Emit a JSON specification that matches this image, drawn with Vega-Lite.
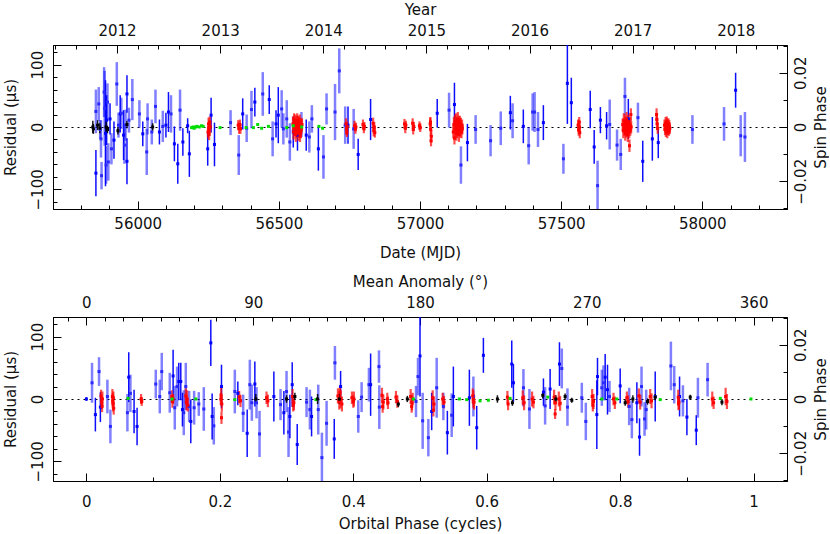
{
"$schema": "https://vega.github.io/schema/vega-lite/v6.json",
"background": "white",
"padding": {"left": 2, "top": 1, "right": 0, "bottom": 0},
"spacing": 12,
"config": {
  "font": "DejaVu Sans",
  "view": {"stroke": "#000", "strokeWidth": 1},
  "axis": {"labelFontSize": 15, "titleFontSize": 15, "titleFontWeight": "normal", "labelColor": "#111", "titleColor": "#111", "domainColor": "#000", "tickColor": "#000", "labelOverlap": false, "labelFlush": false, "grid": false, "tickWidth": 1, "domainWidth": 1, "labelFont": "DejaVu Sans", "titleFont": "DejaVu Sans"}
},
"datasets": {
  "ax1": [{"yr": 2015, "sp": 0}],
  "ax2": [{"ma": 180, "sp": 0}],
  "top": [
    {"x":55852,"r":-74,"e":37,"g":"b"},{"x":55852,"r":25,"e":35,"g":"l"},{"x":55862,"r":37,"e":27,"g":"l"},{"x":55867,"r":-4,"e":15,"g":"l"},{"x":55870,"r":-19,"e":30,"g":"l"},{"x":55872,"r":-78,"e":22,"g":"l"},{"x":55881,"r":56,"e":40,"g":"l"},{"x":55883,"r":30,"e":60,"g":"l"},{"x":55886,"r":-10,"e":85,"g":"b"},{"x":55888,"r":-61,"e":30,"g":"l"},{"x":55890,"r":11,"e":40,"g":"b"},{"x":55893,"r":40,"e":30,"g":"l"},{"x":55896,"r":-56,"e":30,"g":"l"},{"x":55902,"r":13,"e":25,"g":"b"},{"x":55907,"r":-35,"e":25,"g":"l"},{"x":55916,"r":-21,"e":30,"g":"b"},{"x":55926,"r":69,"e":35,"g":"l"},{"x":55932,"r":3,"e":20,"g":"l"},{"x":55938,"r":21,"e":30,"g":"b"},{"x":55942,"r":22,"e":25,"g":"l"},{"x":55950,"r":-13,"e":40,"g":"b"},{"x":55953,"r":-29,"e":30,"g":"l"},{"x":55957,"r":3,"e":25,"g":"l"},{"x":55962,"r":53,"e":30,"g":"b"},{"x":55962,"r":-55,"e":37,"g":"b"},{"x":55969,"r":11,"e":20,"g":"l"},{"x":55981,"r":44,"e":33,"g":"l"},{"x":56006,"r":21,"e":22,"g":"l"},{"x":56018,"r":-11,"e":20,"g":"b"},{"x":56032,"r":-40,"e":37,"g":"l"},{"x":56035,"r":13,"e":25,"g":"l"},{"x":56050,"r":-8,"e":20,"g":"l"},{"x":56063,"r":33,"e":27,"g":"l"},{"x":56077,"r":-8,"e":20,"g":"b"},{"x":56089,"r":1,"e":25,"g":"l"},{"x":56100,"r":3,"e":20,"g":"b"},{"x":56109,"r":24,"e":32,"g":"b"},{"x":56118,"r":21,"e":30,"g":"l"},{"x":56130,"r":-27,"e":28,"g":"b"},{"x":56142,"r":-59,"e":32,"g":"b"},{"x":56150,"r":27,"e":33,"g":"l"},{"x":56160,"r":-24,"e":22,"g":"b"},{"x":56177,"r":2,"e":12,"g":"b"},{"x":56183,"r":-43,"e":37,"g":"b"},{"x":56248,"r":-35,"e":27,"g":"b"},{"x":56260,"r":19,"e":28,"g":"b"},{"x":56272,"r":-28,"e":35,"g":"b"},{"x":56329,"r":7,"e":20,"g":"l"},{"x":56358,"r":-45,"e":32,"g":"l"},{"x":56372,"r":21,"e":25,"g":"b"},{"x":56386,"r":-2,"e":22,"g":"l"},{"x":56403,"r":28,"e":30,"g":"l"},{"x":56415,"r":40,"e":23,"g":"b"},{"x":56443,"r":53,"e":35,"g":"l"},{"x":56466,"r":44,"e":23,"g":"b"},{"x":56478,"r":-19,"e":28,"g":"l"},{"x":56490,"r":5,"e":22,"g":"b"},{"x":56498,"r":19,"e":45,"g":"b"},{"x":56510,"r":29,"e":30,"g":"l"},{"x":56516,"r":-3,"e":25,"g":"l"},{"x":56528,"r":13,"e":30,"g":"l"},{"x":56539,"r":-24,"e":30,"g":"l"},{"x":56551,"r":-8,"e":25,"g":"b"},{"x":56566,"r":-13,"e":25,"g":"b"},{"x":56580,"r":4,"e":20,"g":"l"},{"x":56597,"r":-13,"e":25,"g":"b"},{"x":56608,"r":-16,"e":25,"g":"l"},{"x":56617,"r":13,"e":22,"g":"l"},{"x":56640,"r":-35,"e":35,"g":"b"},{"x":56658,"r":-48,"e":35,"g":"l"},{"x":56669,"r":29,"e":25,"g":"l"},{"x":56699,"r":24,"e":45,"g":"l"},{"x":56714,"r":90,"e":36,"g":"l"},{"x":56735,"r":3,"e":30,"g":"l"},{"x":56745,"r":3,"e":30,"g":"b"},{"x":56765,"r":-3,"e":32,"g":"l"},{"x":56781,"r":-44,"e":25,"g":"b"},{"x":56825,"r":12,"e":33,"g":"b"},
    {"x":57061,"r":22,"e":23,"g":"b"},{"x":57103,"r":27,"e":28,"g":"l"},{"x":57122,"r":36,"e":35,"g":"b"},{"x":57145,"r":-61,"e":30,"g":"l"},{"x":57168,"r":-25,"e":30,"g":"b"},{"x":57197,"r":-4,"e":23,"g":"l"},{"x":57250,"r":-22,"e":25,"g":"l"},{"x":57286,"r":-2,"e":27,"g":"l"},{"x":57320,"r":23,"e":27,"g":"b"},{"x":57328,"r":10,"e":28,"g":"l"},{"x":57366,"r":1,"e":27,"g":"b"},{"x":57385,"r":-30,"e":30,"g":"l"},{"x":57399,"r":24,"e":30,"g":"l"},{"x":57406,"r":24,"e":32,"g":"l"},{"x":57418,"r":-4,"e":28,"g":"l"},{"x":57437,"r":7,"e":28,"g":"b"},{"x":57508,"r":-51,"e":24,"g":"l"},{"x":57522,"r":70,"e":65,"g":"b"},{"x":57536,"r":39,"e":40,"g":"b"},{"x":57603,"r":28,"e":30,"g":"b"},{"x":57617,"r":-32,"e":27,"g":"b"},{"x":57629,"r":-94,"e":40,"g":"l"},{"x":57639,"r":11,"e":21,"g":"b"},{"x":57661,"r":2,"e":22,"g":"b"},{"x":57672,"r":4,"e":40,"g":"l"},{"x":57698,"r":-29,"e":25,"g":"l"},{"x":57711,"r":-44,"e":25,"g":"l"},{"x":57726,"r":49,"e":30,"g":"l"},{"x":57738,"r":13,"e":32,"g":"b"},{"x":57772,"r":15,"e":24,"g":"l"},{"x":57789,"r":-55,"e":33,"g":"b"},{"x":57823,"r":-19,"e":35,"g":"b"},{"x":57844,"r":-25,"e":25,"g":"b"},{"x":57965,"r":-4,"e":23,"g":"l"},{"x":58077,"r":5,"e":27,"g":"l"},{"x":58118,"r":59,"e":28,"g":"b"},{"x":58136,"r":-14,"e":33,"g":"l"},{"x":58151,"r":-16,"e":40,"g":"l"},
    {"x":56249,"r":-8,"e":10,"g":"r"},{"x":56251,"r":5,"e":10,"g":"r"},{"x":56253,"r":-12,"e":9,"g":"r"},{"x":56255,"r":8,"e":9,"g":"r"},{"x":56257,"r":0,"e":10,"g":"r"},{"x":56252,"r":-3,"e":8,"g":"r"},
    {"x":56356,"r":3,"e":8,"g":"r"},{"x":56359,"r":-2,"e":9,"g":"r"},{"x":56362,"r":4,"e":8,"g":"r"},{"x":56364,"r":-3,"e":8,"g":"r"},
    {"x":56550,"r":5,"e":12,"g":"r"},{"x":56552,"r":-8,"e":12,"g":"r"},{"x":56554,"r":12,"e":10,"g":"r"},{"x":56556,"r":-3,"e":12,"g":"r"},{"x":56558,"r":8,"e":12,"g":"r"},{"x":56560,"r":-12,"e":12,"g":"r"},{"x":56562,"r":4,"e":14,"g":"r"},{"x":56563,"r":-6,"e":12,"g":"r"},{"x":56565,"r":10,"e":12,"g":"r"},{"x":56566,"r":-2,"e":14,"g":"r"},{"x":56568,"r":6,"e":12,"g":"r"},{"x":56569,"r":-10,"e":12,"g":"r"},{"x":56571,"r":2,"e":14,"g":"r"},{"x":56572,"r":-5,"e":12,"g":"r"},{"x":56574,"r":8,"e":12,"g":"r"},{"x":56575,"r":-14,"e":10,"g":"r"},{"x":56577,"r":3,"e":12,"g":"r"},{"x":56578,"r":-6,"e":12,"g":"r"},{"x":56580,"r":0,"e":12,"g":"r"},{"x":56582,"r":4,"e":10,"g":"r"},
    {"x":56738,"r":5,"e":9,"g":"r"},{"x":56740,"r":-4,"e":9,"g":"r"},{"x":56742,"r":1,"e":8,"g":"r"},{"x":56741,"r":-9,"e":7,"g":"r"},
    {"x":56768,"r":2,"e":8,"g":"r"},{"x":56771,"r":-3,"e":8,"g":"r"},{"x":56773,"r":0,"e":7,"g":"r"},
    {"x":56798,"r":4,"e":8,"g":"r"},{"x":56801,"r":-2,"e":8,"g":"r"},{"x":56803,"r":1,"e":7,"g":"r"},
    {"x":56834,"r":6,"e":9,"g":"r"},{"x":56836,"r":-6,"e":9,"g":"r"},{"x":56838,"r":0,"e":8,"g":"r"},{"x":56840,"r":-9,"e":8,"g":"r"},
    {"x":56945,"r":5,"e":8,"g":"r"},{"x":56948,"r":-2,"e":8,"g":"r"},{"x":56950,"r":3,"e":7,"g":"r"},
    {"x":56974,"r":6,"e":8,"g":"r"},{"x":56976,"r":-4,"e":8,"g":"r"},{"x":56978,"r":1,"e":7,"g":"r"},
    {"x":56998,"r":2,"e":7,"g":"r"},{"x":57001,"r":-1,"e":7,"g":"r"},
    {"x":57036,"r":5,"e":10,"g":"r"},{"x":57038,"r":-4,"e":10,"g":"r"},{"x":57040,"r":-15,"e":10,"g":"r"},{"x":57039,"r":-22,"e":9,"g":"r"},{"x":57037,"r":8,"e":8,"g":"r"},
    {"x":57118,"r":-8,"e":10,"g":"r"},{"x":57120,"r":4,"e":12,"g":"r"},{"x":57122,"r":-18,"e":10,"g":"r"},{"x":57124,"r":8,"e":12,"g":"r"},{"x":57126,"r":-4,"e":12,"g":"r"},{"x":57128,"r":10,"e":12,"g":"r"},{"x":57129,"r":-10,"e":12,"g":"r"},{"x":57131,"r":2,"e":14,"g":"r"},{"x":57132,"r":-6,"e":12,"g":"r"},{"x":57134,"r":12,"e":12,"g":"r"},{"x":57135,"r":-2,"e":12,"g":"r"},{"x":57137,"r":6,"e":12,"g":"r"},{"x":57138,"r":-12,"e":12,"g":"r"},{"x":57140,"r":0,"e":14,"g":"r"},{"x":57141,"r":8,"e":10,"g":"r"},{"x":57143,"r":-5,"e":12,"g":"r"},{"x":57145,"r":3,"e":12,"g":"r"},{"x":57147,"r":-8,"e":10,"g":"r"},{"x":57149,"r":2,"e":10,"g":"r"},{"x":57150,"r":-3,"e":9,"g":"r"},
    {"x":57560,"r":3,"e":9,"g":"r"},{"x":57562,"r":-5,"e":9,"g":"r"},{"x":57564,"r":8,"e":8,"g":"r"},{"x":57566,"r":-9,"e":9,"g":"r"},{"x":57565,"r":0,"e":10,"g":"r"},
    {"x":57718,"r":4,"e":10,"g":"r"},{"x":57720,"r":-6,"e":12,"g":"r"},{"x":57722,"r":10,"e":12,"g":"r"},{"x":57724,"r":-2,"e":12,"g":"r"},{"x":57726,"r":6,"e":14,"g":"r"},{"x":57727,"r":-10,"e":12,"g":"r"},{"x":57729,"r":2,"e":14,"g":"r"},{"x":57730,"r":-5,"e":12,"g":"r"},{"x":57732,"r":12,"e":12,"g":"r"},{"x":57733,"r":-1,"e":14,"g":"r"},{"x":57735,"r":5,"e":12,"g":"r"},{"x":57736,"r":-12,"e":12,"g":"r"},{"x":57738,"r":0,"e":14,"g":"r"},{"x":57739,"r":8,"e":12,"g":"r"},{"x":57741,"r":-6,"e":12,"g":"r"},{"x":57742,"r":-30,"e":10,"g":"r"},{"x":57744,"r":3,"e":12,"g":"r"},{"x":57745,"r":-4,"e":10,"g":"r"},{"x":57747,"r":20,"e":10,"g":"r"},{"x":57748,"r":0,"e":10,"g":"r"},
    {"x":57838,"r":20,"e":10,"g":"r"},{"x":57840,"r":5,"e":10,"g":"r"},{"x":57842,"r":-2,"e":9,"g":"r"},{"x":57839,"r":12,"e":9,"g":"r"},
    {"x":57866,"r":3,"e":9,"g":"r"},{"x":57868,"r":-4,"e":9,"g":"r"},{"x":57870,"r":6,"e":10,"g":"r"},{"x":57871,"r":-6,"e":10,"g":"r"},{"x":57873,"r":0,"e":11,"g":"r"},{"x":57874,"r":8,"e":9,"g":"r"},{"x":57876,"r":-8,"e":10,"g":"r"},{"x":57877,"r":2,"e":11,"g":"r"},{"x":57879,"r":-3,"e":10,"g":"r"},{"x":57880,"r":5,"e":9,"g":"r"},{"x":57882,"r":-5,"e":9,"g":"r"},{"x":57883,"r":1,"e":10,"g":"r"},{"x":57885,"r":-2,"e":9,"g":"r"},
    {"x":56191,"r":-1,"e":2,"g":"g"},{"x":56196,"r":0,"e":2,"g":"g"},{"x":56200,"r":-2,"e":2,"g":"g"},{"x":56205,"r":0,"e":2,"g":"g"},{"x":56210,"r":1,"e":2,"g":"g"},{"x":56218,"r":0,"e":2,"g":"g"},{"x":56226,"r":2,"e":2,"g":"g"},{"x":56232,"r":1,"e":2,"g":"g"},{"x":56292,"r":-1,"e":2,"g":"g"},{"x":56384,"r":-1,"e":2,"g":"g"},{"x":56410,"r":-1,"e":2,"g":"g"},{"x":56425,"r":4,"e":2,"g":"g"},{"x":56439,"r":-2,"e":2,"g":"g"},{"x":56463,"r":1,"e":2,"g":"g"},{"x":56528,"r":-1,"e":2,"g":"g"},{"x":56551,"r":2,"e":2,"g":"g"},{"x":56581,"r":0,"e":2,"g":"g"},{"x":56642,"r":1,"e":2,"g":"g"},{"x":56655,"r":-2,"e":2,"g":"g"},
    {"x":55841,"r":0,"e":10,"g":"k"},{"x":55843,"r":-3,"e":8,"g":"k"},{"x":55858,"r":3,"e":8,"g":"k"},{"x":55866,"r":-2,"e":8,"g":"k"},{"x":55888,"r":0,"e":10,"g":"k"},{"x":55893,"r":-4,"e":6,"g":"k"},{"x":55930,"r":-6,"e":6,"g":"k"},{"x":55962,"r":4,"e":6,"g":"k"},{"x":56053,"r":0,"e":6,"g":"k"}
  ],
  "bot": [
    {"x":0.0,"r":0,"e":3,"g":"b"},{"x":0.0085,"r":26,"e":32,"g":"l"},{"x":0.0135,"r":-25,"e":27,"g":"b"},{"x":0.019,"r":44,"e":23,"g":"l"},{"x":0.021,"r":-13,"e":24,"g":"b"},{"x":0.0315,"r":4,"e":27,"g":"l"},{"x":0.036,"r":-44,"e":27,"g":"l"},{"x":0.0615,"r":-22,"e":30,"g":"l"},{"x":0.0635,"r":35,"e":40,"g":"b"},{"x":0.066,"r":9,"e":30,"g":"l"},{"x":0.0715,"r":-20,"e":35,"g":"b"},{"x":0.076,"r":-44,"e":30,"g":"b"},{"x":0.104,"r":24,"e":23,"g":"l"},{"x":0.11,"r":4,"e":27,"g":"l"},{"x":0.113,"r":44,"e":30,"g":"l"},{"x":0.125,"r":10,"e":32,"g":"l"},{"x":0.13,"r":37,"e":42,"g":"b"},{"x":0.1325,"r":-14,"e":35,"g":"l"},{"x":0.136,"r":20,"e":32,"g":"l"},{"x":0.1385,"r":28,"e":30,"g":"b"},{"x":0.1415,"r":28,"e":30,"g":"b"},{"x":0.144,"r":-17,"e":27,"g":"b"},{"x":0.146,"r":-22,"e":36,"g":"l"},{"x":0.149,"r":20,"e":38,"g":"l"},{"x":0.154,"r":-12,"e":25,"g":"l"},{"x":0.1565,"r":-36,"e":35,"g":"b"},{"x":0.1615,"r":-14,"e":27,"g":"l"},{"x":0.1685,"r":-8,"e":19,"g":"l"},{"x":0.176,"r":-16,"e":35,"g":"l"},{"x":0.1865,"r":90,"e":37,"g":"b"},{"x":0.1885,"r":-28,"e":37,"g":"b"},{"x":0.191,"r":-43,"e":30,"g":"l"},{"x":0.2025,"r":20,"e":35,"g":"b"},{"x":0.2225,"r":12,"e":35,"g":"l"},{"x":0.227,"r":9,"e":19,"g":"b"},{"x":0.235,"r":-23,"e":30,"g":"l"},{"x":0.241,"r":-55,"e":38,"g":"b"},{"x":0.245,"r":23,"e":40,"g":"l"},{"x":0.248,"r":-6,"e":29,"g":"l"},{"x":0.2525,"r":24,"e":36,"g":"b"},{"x":0.255,"r":-6,"e":25,"g":"l"},{"x":0.2595,"r":-56,"e":37,"g":"l"},{"x":0.281,"r":4,"e":40,"g":"b"},{"x":0.291,"r":-9,"e":25,"g":"l"},{"x":0.296,"r":-22,"e":35,"g":"b"},{"x":0.3,"r":12,"e":33,"g":"l"},{"x":0.303,"r":-53,"e":40,"g":"l"},{"x":0.305,"r":-28,"e":35,"g":"b"},{"x":0.3085,"r":23,"e":36,"g":"b"},{"x":0.316,"r":-73,"e":33,"g":"b"},{"x":0.33,"r":-5,"e":24,"g":"l"},{"x":0.335,"r":-17,"e":32,"g":"l"},{"x":0.3375,"r":-28,"e":32,"g":"b"},{"x":0.3475,"r":-17,"e":40,"g":"l"},{"x":0.353,"r":-94,"e":40,"g":"l"},{"x":0.36,"r":-39,"e":36,"g":"l"},{"x":0.3715,"r":-64,"e":32,"g":"b"},{"x":0.3725,"r":58,"e":27,"g":"l"},{"x":0.381,"r":20,"e":25,"g":"b"},{"x":0.4075,"r":-28,"e":26,"g":"l"},{"x":0.4125,"r":3,"e":24,"g":"l"},{"x":0.4235,"r":23,"e":27,"g":"l"},{"x":0.426,"r":23,"e":50,"g":"b"},{"x":0.4385,"r":52,"e":26,"g":"l"},{"x":0.439,"r":-13,"e":35,"g":"l"},{"x":0.494,"r":-4,"e":25,"g":"l"},{"x":0.497,"r":36,"e":30,"g":"l"},
    {"x":0.5,"r":69,"e":65,"g":"b"},{"x":0.504,"r":-35,"e":45,"g":"l"},{"x":0.5125,"r":-62,"e":30,"g":"l"},{"x":0.5175,"r":-20,"e":30,"g":"b"},{"x":0.525,"r":18,"e":48,"g":"l"},{"x":0.535,"r":-12,"e":22,"g":"l"},{"x":0.541,"r":-54,"e":35,"g":"b"},{"x":0.5475,"r":-26,"e":35,"g":"l"},{"x":0.55,"r":4,"e":48,"g":"b"},{"x":0.574,"r":2,"e":45,"g":"b"},{"x":0.58,"r":4,"e":32,"g":"l"},{"x":0.585,"r":-46,"e":35,"g":"b"},{"x":0.595,"r":70,"e":28,"g":"b"},{"x":0.6375,"r":56,"e":38,"g":"b"},{"x":0.64,"r":26,"e":30,"g":"b"},{"x":0.655,"r":18,"e":30,"g":"l"},{"x":0.664,"r":-16,"e":32,"g":"l"},{"x":0.685,"r":11,"e":22,"g":"b"},{"x":0.6875,"r":-11,"e":30,"g":"l"},{"x":0.695,"r":16,"e":32,"g":"b"},{"x":0.709,"r":56,"e":35,"g":"b"},{"x":0.7125,"r":49,"e":32,"g":"l"},{"x":0.721,"r":-13,"e":30,"g":"l"},{"x":0.7425,"r":2,"e":24,"g":"l"},{"x":0.7485,"r":-36,"e":30,"g":"l"},{"x":0.765,"r":-25,"e":55,"g":"b"},{"x":0.766,"r":36,"e":30,"g":"b"},{"x":0.7725,"r":18,"e":29,"g":"l"},{"x":0.775,"r":26,"e":28,"g":"l"},{"x":0.7775,"r":35,"e":37,"g":"b"},{"x":0.781,"r":15,"e":40,"g":"b"},{"x":0.784,"r":4,"e":25,"g":"l"},{"x":0.8,"r":21,"e":28,"g":"b"},{"x":0.8135,"r":-12,"e":30,"g":"l"},{"x":0.8175,"r":-33,"e":30,"g":"l"},{"x":0.825,"r":-6,"e":33,"g":"b"},{"x":0.829,"r":-61,"e":30,"g":"b"},{"x":0.832,"r":20,"e":32,"g":"l"},{"x":0.8365,"r":-32,"e":27,"g":"l"},{"x":0.839,"r":-17,"e":32,"g":"l"},{"x":0.8525,"r":4,"e":40,"g":"b"},{"x":0.876,"r":53,"e":39,"g":"l"},{"x":0.881,"r":23,"e":30,"g":"l"},{"x":0.889,"r":4,"e":32,"g":"b"},{"x":0.894,"r":-3,"e":25,"g":"l"},{"x":0.9,"r":-29,"e":29,"g":"b"},{"x":0.914,"r":-50,"e":24,"g":"b"},{"x":0.9165,"r":2,"e":32,"g":"l"},{"x":0.931,"r":31,"e":27,"g":"l"},
    {"x":0.022,"r":5,"e":10,"g":"r"},{"x":0.023,"r":-6,"e":10,"g":"r"},{"x":0.024,"r":0,"e":12,"g":"r"},{"x":0.0235,"r":-12,"e":9,"g":"r"},
    {"x":0.039,"r":4,"e":12,"g":"r"},{"x":0.04,"r":-8,"e":12,"g":"r"},{"x":0.041,"r":-15,"e":10,"g":"r"},{"x":0.0405,"r":2,"e":10,"g":"r"},{"x":0.0395,"r":-3,"e":12,"g":"r"},
    {"x":0.082,"r":0,"e":8,"g":"r"},{"x":0.083,"r":-4,"e":7,"g":"r"},
    {"x":0.128,"r":4,"e":10,"g":"r"},{"x":0.129,"r":-4,"e":10,"g":"r"},{"x":0.13,"r":0,"e":8,"g":"r"},
    {"x":0.149,"r":5,"e":12,"g":"r"},{"x":0.15,"r":-6,"e":12,"g":"r"},{"x":0.151,"r":0,"e":14,"g":"r"},{"x":0.152,"r":-10,"e":10,"g":"r"},
    {"x":0.202,"r":6,"e":12,"g":"r"},{"x":0.203,"r":-8,"e":12,"g":"r"},{"x":0.2025,"r":-30,"e":10,"g":"r"},{"x":0.2015,"r":0,"e":10,"g":"r"},
    {"x":0.229,"r":3,"e":10,"g":"r"},{"x":0.231,"r":-3,"e":10,"g":"r"},
    {"x":0.27,"r":2,"e":10,"g":"r"},{"x":0.272,"r":-3,"e":10,"g":"r"},
    {"x":0.309,"r":4,"e":12,"g":"r"},{"x":0.311,"r":-6,"e":12,"g":"r"},{"x":0.31,"r":-10,"e":10,"g":"r"},
    {"x":0.377,"r":5,"e":12,"g":"r"},{"x":0.379,"r":-5,"e":12,"g":"r"},{"x":0.381,"r":0,"e":15,"g":"r"},{"x":0.383,"r":-8,"e":12,"g":"r"},{"x":0.38,"r":10,"e":10,"g":"r"},
    {"x":0.398,"r":2,"e":10,"g":"r"},{"x":0.4,"r":-4,"e":10,"g":"r"},{"x":0.401,"r":0,"e":12,"g":"r"},
    {"x":0.443,"r":6,"e":12,"g":"r"},{"x":0.445,"r":-5,"e":12,"g":"r"},{"x":0.444,"r":-12,"e":10,"g":"r"},
    {"x":0.451,"r":0,"e":10,"g":"r"},{"x":0.452,"r":-6,"e":10,"g":"r"},
    {"x":0.464,"r":3,"e":10,"g":"r"},{"x":0.466,"r":-4,"e":10,"g":"r"},
    {"x":0.486,"r":4,"e":12,"g":"r"},{"x":0.488,"r":-6,"e":12,"g":"r"},{"x":0.4875,"r":-12,"e":10,"g":"r"},{"x":0.489,"r":0,"e":10,"g":"r"},
    {"x":0.519,"r":2,"e":12,"g":"r"},{"x":0.521,"r":-8,"e":12,"g":"r"},{"x":0.52,"r":-18,"e":10,"g":"r"},
    {"x":0.534,"r":0,"e":10,"g":"r"},{"x":0.536,"r":-5,"e":10,"g":"r"},
    {"x":0.579,"r":5,"e":12,"g":"r"},{"x":0.581,"r":-5,"e":12,"g":"r"},{"x":0.58,"r":0,"e":14,"g":"r"},
    {"x":0.631,"r":3,"e":10,"g":"r"},{"x":0.632,"r":-8,"e":10,"g":"r"},
    {"x":0.654,"r":2,"e":12,"g":"r"},{"x":0.656,"r":-6,"e":12,"g":"r"},
    {"x":0.668,"r":0,"e":12,"g":"r"},{"x":0.67,"r":-5,"e":10,"g":"r"},
    {"x":0.701,"r":3,"e":12,"g":"r"},{"x":0.703,"r":-6,"e":12,"g":"r"},{"x":0.7025,"r":-24,"e":8,"g":"r"},
    {"x":0.708,"r":0,"e":12,"g":"r"},{"x":0.71,"r":-7,"e":12,"g":"r"},
    {"x":0.758,"r":4,"e":12,"g":"r"},{"x":0.76,"r":-4,"e":12,"g":"r"},{"x":0.759,"r":-10,"e":10,"g":"r"},
    {"x":0.79,"r":0,"e":10,"g":"r"},{"x":0.792,"r":-6,"e":10,"g":"r"},
    {"x":0.81,"r":2,"e":10,"g":"r"},{"x":0.812,"r":-4,"e":10,"g":"r"},
    {"x":0.828,"r":5,"e":12,"g":"r"},{"x":0.83,"r":-5,"e":12,"g":"r"},
    {"x":0.845,"r":4,"e":12,"g":"r"},{"x":0.847,"r":-3,"e":12,"g":"r"},
    {"x":0.887,"r":3,"e":12,"g":"r"},{"x":0.888,"r":-5,"e":12,"g":"r"},{"x":0.8875,"r":-8,"e":10,"g":"r"},
    {"x":0.938,"r":0,"e":12,"g":"r"},{"x":0.94,"r":-6,"e":10,"g":"r"},
    {"x":0.958,"r":4,"e":14,"g":"r"},{"x":0.96,"r":-4,"e":12,"g":"r"},
    {"x":0.0625,"r":1,"e":2,"g":"g"},{"x":0.1285,"r":0,"e":2,"g":"g"},{"x":0.164,"r":0,"e":2,"g":"g"},{"x":0.2225,"r":-1,"e":2,"g":"g"},{"x":0.344,"r":-1,"e":2,"g":"g"},{"x":0.49,"r":0,"e":2,"g":"g"},{"x":0.559,"r":0,"e":2,"g":"g"},{"x":0.57,"r":-1,"e":2,"g":"g"},{"x":0.59,"r":-3,"e":2,"g":"g"},{"x":0.6025,"r":-2,"e":2,"g":"g"},{"x":0.635,"r":1,"e":2,"g":"g"},{"x":0.6915,"r":3,"e":2,"g":"g"},{"x":0.7725,"r":0,"e":2,"g":"g"},{"x":0.795,"r":0,"e":2,"g":"g"},{"x":0.86,"r":-1,"e":2,"g":"g"},{"x":0.95,"r":1,"e":2,"g":"g"},{"x":0.996,"r":0,"e":2,"g":"g"},
    {"x":0.254,"r":0,"e":8,"g":"k"},{"x":0.3,"r":0,"e":6,"g":"k"},{"x":0.3125,"r":4,"e":6,"g":"k"},{"x":0.3465,"r":0,"e":8,"g":"k"},{"x":0.379,"r":0,"e":8,"g":"k"},{"x":0.4675,"r":-8,"e":5,"g":"k"},{"x":0.481,"r":0,"e":5,"g":"k"},{"x":0.616,"r":0,"e":6,"g":"k"},{"x":0.6385,"r":-6,"e":5,"g":"k"},{"x":0.684,"r":6,"e":5,"g":"k"},{"x":0.7035,"r":0,"e":6,"g":"k"},{"x":0.7175,"r":4,"e":5,"g":"k"},{"x":0.7275,"r":-2,"e":4,"g":"k"},{"x":0.8075,"r":-6,"e":5,"g":"k"},{"x":0.819,"r":0,"e":6,"g":"k"},{"x":0.841,"r":-4,"e":5,"g":"k"},{"x":0.8525,"r":3,"e":5,"g":"k"},{"x":0.905,"r":3,"e":4,"g":"k"},{"x":0.9525,"r":-5,"e":5,"g":"k"}
  ]
},
"vconcat": [
  {
    "width": 734, "height": 164,
    "resolve": {"scale": {"x": "independent", "y": "independent"}},
    "layer": [
      {
        "data": {"name": "top"},
        "encoding": {
          "x": {"field": "x", "type": "quantitative", "title": "Date (MJD)",
            "scale": {"domain": [55700, 58300], "nice": false, "zero": false},
            "axis": {"orient": "bottom", "values": [55700,55800,55900,56000,56100,56200,56300,56400,56500,56600,56700,56800,56900,57000,57100,57200,57300,57400,57500,57600,57700,57800,57900,58000,58100,58200,58300],
              "labelExpr": "datum.value % 500 == 0 ? format(datum.value, 'd') : ''",
              "tickSize": {"condition": {"test": "datum.value % 500 == 0", "value": -8}, "value": -4},
              "labelPadding": 15, "titlePadding": 10}},
          "y": {"field": "r", "type": "quantitative", "title": "Residual (μs)",
            "scale": {"domain": [-131.5, 131.5], "nice": false, "zero": false},
            "axis": {"orient": "left", "values": [-120,-100,-80,-60,-40,-20,0,20,40,60,80,100,120],
              "labelExpr": "datum.value % 100 == 0 ? format(datum.value, 'd') : ''",
              "tickSize": {"condition": {"test": "datum.value % 100 == 0", "value": -8}, "value": -4},
              "labelAngle": -90, "labelAlign": "center", "labelBaseline": "bottom", "labelPadding": 16, "titlePadding": 8,
              "grid": true, "gridDash": [2, 4], "gridColor": "#000", "gridWidth": 1.2,
              "gridOpacity": {"condition": {"test": "datum.value == 0", "value": 1}, "value": 0}}}
        },
        "layer": [
          {"transform": [{"filter": "datum.g == 'l'"}], "mark": {"type": "errorbar", "color": "#0000ff", "opacity": 0.5, "thickness": 2.5, "clip": true}, "encoding": {"yError": {"field": "e"}}},
          {"transform": [{"filter": "datum.g == 'b'"}], "mark": {"type": "errorbar", "color": "#0000ff", "opacity": 0.95, "thickness": 1.5, "clip": true}, "encoding": {"yError": {"field": "e"}}},
          {"transform": [{"filter": "datum.g == 'r'"}], "mark": {"type": "errorbar", "color": "#ff0000", "opacity": 0.7, "thickness": 2.2, "clip": true}, "encoding": {"yError": {"field": "e"}}},
          {"transform": [{"filter": "datum.g == 'k'"}], "mark": {"type": "errorbar", "color": "#000000", "opacity": 0.9, "thickness": 1.5, "clip": true}, "encoding": {"yError": {"field": "e"}}},
          {"mark": {"type": "square", "size": 9, "opacity": 1, "clip": true},
           "encoding": {"color": {"field": "g", "type": "nominal", "scale": {"domain": ["b", "l", "r", "g", "k"], "range": ["#0000ff", "#2a2aff", "#ff0000", "#00dd00", "#000000"]}, "legend": null}}}
        ]
      },
      {
        "data": {"name": "ax1"},
        "mark": {"type": "point", "opacity": 0},
        "encoding": {
          "x": {"field": "yr", "type": "quantitative", "title": "Year",
            "scale": {"domain": [2011.3785, 2018.4969], "nice": false, "zero": false},
            "axis": {"orient": "top", "values": [2011.4,2011.6,2011.8,2012,2012.2,2012.4,2012.6,2012.8,2013,2013.2,2013.4,2013.6,2013.8,2014,2014.2,2014.4,2014.6,2014.8,2015,2015.2,2015.4,2015.6,2015.8,2016,2016.2,2016.4,2016.6,2016.8,2017,2017.2,2017.4,2017.6,2017.8,2018,2018.2,2018.4],
              "labelExpr": "abs(datum.value - round(datum.value)) < 0.01 ? format(round(datum.value), 'd') : ''",
              "tickSize": {"condition": {"test": "abs(datum.value - round(datum.value)) < 0.01", "value": -8}, "value": -4},
              "labelPadding": 15, "titlePadding": 2}},
          "y": {"field": "sp", "type": "quantitative", "title": "Spin Phase",
            "scale": {"domain": [-0.0302, 0.0302], "nice": false, "zero": false},
            "axis": {"orient": "right", "values": [-0.03,-0.02,-0.01,0,0.01,0.02,0.03],
              "labelExpr": "abs(datum.value) < 0.000001 ? '0' : (abs(abs(datum.value) - 0.02) < 0.000001 ? format(datum.value, '.2f') : '')",
              "tickSize": {"condition": {"test": "abs(datum.value) < 0.000001 || abs(abs(datum.value) - 0.02) < 0.000001", "value": -8}, "value": -4},
              "labelAngle": -90, "labelAlign": "center", "labelBaseline": "top", "labelPadding": 14, "titlePadding": 1,
              "titleAngle": 270, "titleBaseline": "top"}}
        }
      }
    ]
  },
  {
    "width": 734, "height": 164,
    "resolve": {"scale": {"x": "independent", "y": "independent"}},
    "layer": [
      {
        "data": {"name": "bot"},
        "encoding": {
          "x": {"field": "x", "type": "quantitative", "title": "Orbital Phase (cycles)",
            "scale": {"domain": [-0.05, 1.05], "nice": false, "zero": false},
            "axis": {"orient": "bottom", "values": [0,0.1,0.2,0.3,0.4,0.5,0.6,0.7,0.8,0.9,1],
              "labelExpr": "round(datum.value * 10) % 2 == 0 ? format(datum.value, '~g') : ''",
              "tickSize": {"condition": {"test": "round(datum.value * 10) % 2 == 0", "value": -8}, "value": -4},
              "labelPadding": 21, "titlePadding": 3}},
          "y": {"field": "r", "type": "quantitative", "title": "Residual (μs)",
            "scale": {"domain": [-131.5, 131.5], "nice": false, "zero": false},
            "axis": {"orient": "left", "values": [-120,-100,-80,-60,-40,-20,0,20,40,60,80,100,120],
              "labelExpr": "datum.value % 100 == 0 ? format(datum.value, 'd') : ''",
              "tickSize": {"condition": {"test": "datum.value % 100 == 0", "value": -8}, "value": -4},
              "labelAngle": -90, "labelAlign": "center", "labelBaseline": "bottom", "labelPadding": 16, "titlePadding": 8,
              "grid": true, "gridDash": [2, 4], "gridColor": "#000", "gridWidth": 1.2,
              "gridOpacity": {"condition": {"test": "datum.value == 0", "value": 1}, "value": 0}}}
        },
        "layer": [
          {"transform": [{"filter": "datum.g == 'l'"}], "mark": {"type": "errorbar", "color": "#0000ff", "opacity": 0.5, "thickness": 2.5, "clip": true}, "encoding": {"yError": {"field": "e"}}},
          {"transform": [{"filter": "datum.g == 'b'"}], "mark": {"type": "errorbar", "color": "#0000ff", "opacity": 0.95, "thickness": 1.5, "clip": true}, "encoding": {"yError": {"field": "e"}}},
          {"transform": [{"filter": "datum.g == 'r'"}], "mark": {"type": "errorbar", "color": "#ff0000", "opacity": 0.7, "thickness": 2.2, "clip": true}, "encoding": {"yError": {"field": "e"}}},
          {"transform": [{"filter": "datum.g == 'k'"}], "mark": {"type": "errorbar", "color": "#000000", "opacity": 0.9, "thickness": 1.5, "clip": true}, "encoding": {"yError": {"field": "e"}}},
          {"mark": {"type": "square", "size": 9, "opacity": 1, "clip": true},
           "encoding": {"color": {"field": "g", "type": "nominal", "scale": {"domain": ["b", "l", "r", "g", "k"], "range": ["#0000ff", "#2a2aff", "#ff0000", "#00dd00", "#000000"]}, "legend": null}}}
        ]
      },
      {
        "data": {"name": "ax2"},
        "mark": {"type": "point", "opacity": 0},
        "encoding": {
          "x": {"field": "ma", "type": "quantitative", "title": "Mean Anomaly (°)",
            "scale": {"domain": [-18, 378], "nice": false, "zero": false},
            "axis": {"orient": "top", "values": [-10,0,10,20,30,40,50,60,70,80,90,100,110,120,130,140,150,160,170,180,190,200,210,220,230,240,250,260,270,280,290,300,310,320,330,340,350,360,370],
              "labelExpr": "datum.value % 90 == 0 ? format(datum.value, 'd') : ''",
              "tickSize": {"condition": {"test": "datum.value % 90 == 0", "value": -8}, "value": -4},
              "labelPadding": 15, "titlePadding": 2}},
          "y": {"field": "sp", "type": "quantitative", "title": "Spin Phase",
            "scale": {"domain": [-0.0302, 0.0302], "nice": false, "zero": false},
            "axis": {"orient": "right", "values": [-0.03,-0.02,-0.01,0,0.01,0.02,0.03],
              "labelExpr": "abs(datum.value) < 0.000001 ? '0' : (abs(abs(datum.value) - 0.02) < 0.000001 ? format(datum.value, '.2f') : '')",
              "tickSize": {"condition": {"test": "abs(datum.value) < 0.000001 || abs(abs(datum.value) - 0.02) < 0.000001", "value": -8}, "value": -4},
              "labelAngle": -90, "labelAlign": "center", "labelBaseline": "top", "labelPadding": 14, "titlePadding": 1,
              "titleAngle": 270, "titleBaseline": "top"}}
        }
      }
    ]
  }
]
}
